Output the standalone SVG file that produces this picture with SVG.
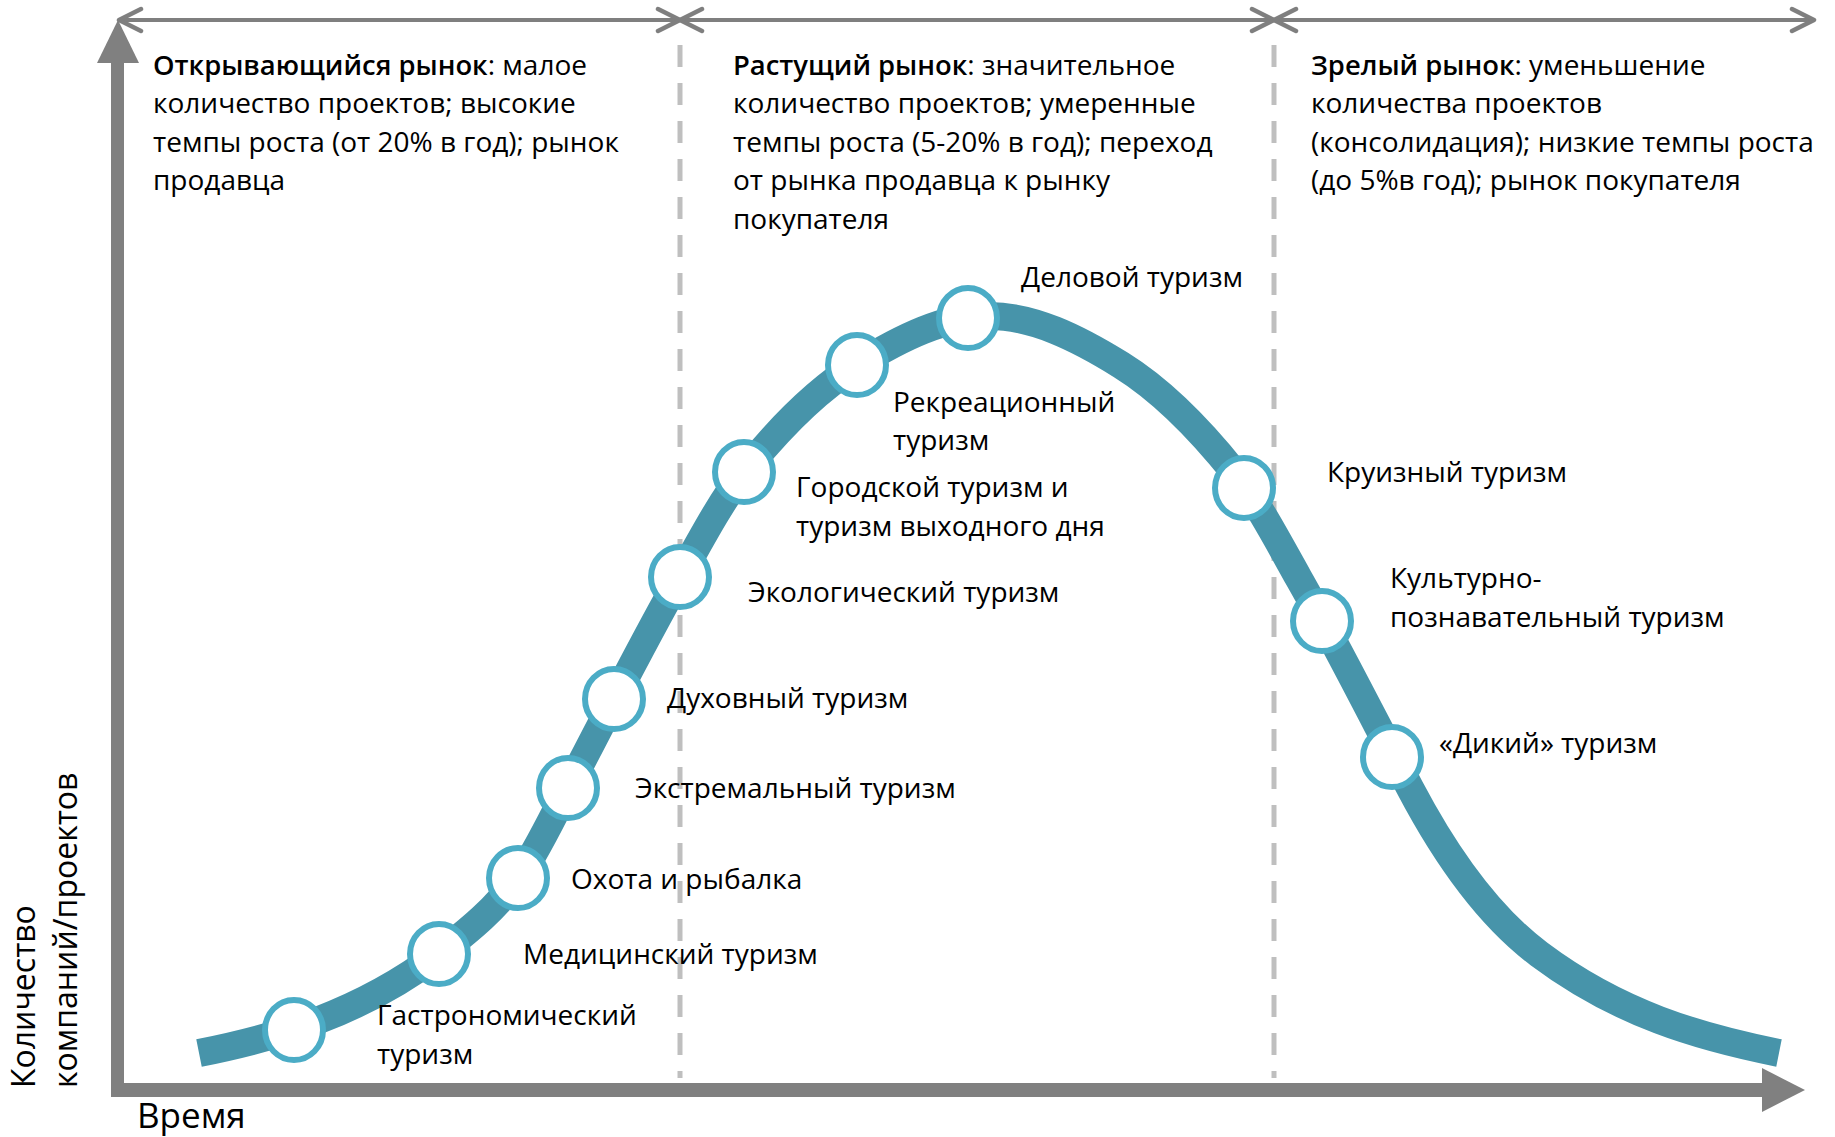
<svg xmlns="http://www.w3.org/2000/svg" width="1835" height="1137" viewBox="0 0 1835 1137">
<style>
text{font-family:"Open Sans","Liberation Sans",sans-serif;fill:#000}
.hdr{font-size:28px}
.b{font-weight:600;font-size:27.4px}
.lbl{font-size:28px}
.ax{font-size:32px}
.axb{font-size:35px}
.node ellipse{fill:#fff;stroke:#4BACC6;stroke-width:6}
.div{stroke:#BFBFBF;stroke-width:5;stroke-dasharray:22 16;fill:none}
.span{stroke:#7F7F7F;stroke-width:4;fill:none;marker-start:url(#chev);marker-end:url(#chev)}
</style>
<defs>
<marker id="chev" viewBox="-26 -14 30 28" refX="0" refY="0" markerWidth="30" markerHeight="28" markerUnits="userSpaceOnUse" orient="auto-start-reverse">
<path d="M-22,-11 L0,0 L-22,11" fill="none" stroke="#7F7F7F" stroke-width="4.5" stroke-linecap="round" stroke-linejoin="round"/>
</marker>
</defs>
<rect width="1835" height="1137" fill="#fff"/>

<g id="phase-dividers">
<line class="div" x1="680" y1="45" x2="680" y2="1078"/>
<line class="div" x1="1274" y1="45" x2="1274" y2="1078"/>
</g>

<g id="phase-spans">
<line class="span" x1="119" y1="20" x2="680" y2="20"/>
<line class="span" x1="680" y1="20" x2="1274" y2="20"/>
<line class="span" x1="1274" y1="20" x2="1814" y2="20"/>
</g>

<g id="axes" fill="#808080">
<rect x="111" y="58" width="13" height="1034"/>
<polygon points="118,20 139,63 97,63"/>
<rect x="111" y="1083" width="1653" height="14"/>
<polygon points="1762,1068 1805,1090 1762,1112"/>
</g>

<g id="axis-labels">
<text class="ax" transform="translate(35,1088) rotate(-90)">Количество</text>
<text class="ax" transform="translate(77,1088) rotate(-90)">компаний/проектов</text>
<text class="axb" x="137" y="1128">Время</text>
</g>

<g id="headers" class="hdr">
<g id="h-open">
<text x="153" y="74.5"><tspan class="b">Открывающийся рынок</tspan>: малое</text>
<text x="153" y="113">количество проектов; высокие</text>
<text x="153" y="151.5">темпы роста (от 20% в год); рынок</text>
<text x="153" y="190">продавца</text>
</g>
<g id="h-grow">
<text x="733" y="74.5"><tspan class="b">Растущий рынок</tspan>: значительное</text>
<text x="733" y="113">количество проектов; умеренные</text>
<text x="733" y="151.5">темпы роста (5-20% в год); переход</text>
<text x="733" y="190">от рынка продавца к рынку</text>
<text x="733" y="228.5">покупателя</text>
</g>
<g id="h-mature">
<text x="1311" y="74.5"><tspan class="b">Зрелый рынок</tspan>: уменьшение</text>
<text x="1311" y="113">количества проектов</text>
<text x="1311" y="151.5">(консолидация); низкие темпы роста</text>
<text x="1311" y="190">(до 5%в год); рынок покупателя</text>
</g>
</g>

<g id="connectors">
<path id="curve" d="M199,1053 C279,1037 359,1014 439,954 C465.3,932.9 491.7,913.5 518,878 C534.7,855.5 551.3,819.7 568,788 C605.3,717.1 642.7,642.3 680,577 C701.3,538.6 722.7,498.7 744,472 C781.7,424.9 819.3,388.4 857,365 C901,337.7 945,316 989,316 C1033,316 1077,337.7 1121,365 C1158.7,388.4 1196.3,424.9 1234,472 C1255.3,498.7 1276.7,538.6 1298,577 C1335.3,642.3 1372.7,717.1 1410,788 C1453,869.7 1496,921.75 1539,954 C1619,1014 1699,1037 1779,1053" fill="none" stroke="#4794AA" stroke-width="28" stroke-linecap="butt"/>
</g>

<g id="n-gastro" class="node"><ellipse cx="294" cy="1030" rx="29" ry="30"/><text class="lbl" x="377" y="1025">Гастрономический</text><text class="lbl" x="377" y="1064">туризм</text></g>
<g id="n-medical" class="node"><ellipse cx="439" cy="954" rx="29" ry="30"/><text class="lbl" x="523" y="964">Медицинский туризм</text></g>
<g id="n-hunting" class="node"><ellipse cx="518" cy="878" rx="29" ry="30"/><text class="lbl" x="571" y="889">Охота и рыбалка</text></g>
<g id="n-extreme" class="node"><ellipse cx="568" cy="788" rx="29" ry="30"/><text class="lbl" x="635" y="798">Экстремальный туризм</text></g>
<g id="n-spiritual" class="node"><ellipse cx="614" cy="699" rx="29" ry="30"/><text class="lbl" x="667" y="708">Духовный туризм</text></g>
<g id="n-eco" class="node"><ellipse cx="680" cy="577" rx="29" ry="30"/><text class="lbl" x="748" y="602">Экологический туризм</text></g>
<g id="n-city" class="node"><ellipse cx="744" cy="472" rx="29" ry="30"/><text class="lbl" x="796" y="497">Городской туризм и</text><text class="lbl" x="796" y="536">туризм выходного дня</text></g>
<g id="n-recreation" class="node"><ellipse cx="857" cy="365" rx="29" ry="30"/><text class="lbl" x="893" y="412">Рекреационный</text><text class="lbl" x="893" y="450">туризм</text></g>
<g id="n-business" class="node"><ellipse cx="968" cy="318" rx="29" ry="30"/><text class="lbl" x="1021" y="287">Деловой туризм</text></g>
<g id="n-cruise" class="node"><ellipse cx="1244" cy="488" rx="29" ry="30"/><text class="lbl" x="1327" y="482">Круизный туризм</text></g>
<g id="n-culture" class="node"><ellipse cx="1322" cy="621" rx="29" ry="30"/><text class="lbl" x="1390" y="588">Культурно-</text><text class="lbl" x="1390" y="627">познавательный туризм</text></g>
<g id="n-wild" class="node"><ellipse cx="1392" cy="757" rx="29" ry="30"/><text class="lbl" x="1439" y="753">«Дикий» туризм</text></g>
</svg>
